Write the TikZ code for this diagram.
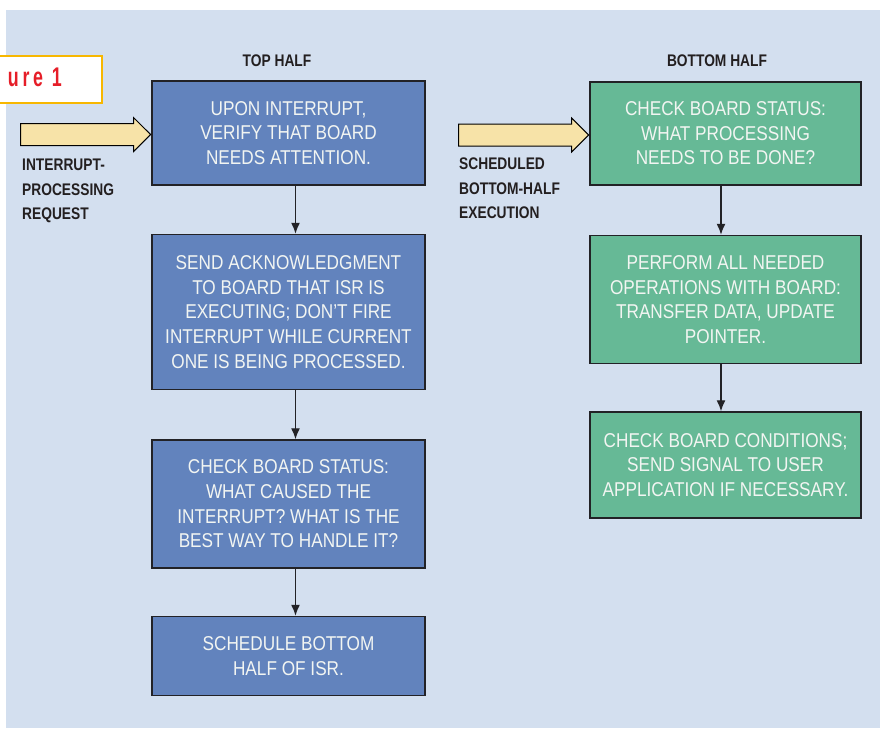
\documentclass[tikz,border=0pt]{standalone}
\usepackage{fontspec}
\setmainfont{Liberation Sans}[FakeStretch=0.86]
\newfontfamily\labelfont{Liberation Sans}[FakeStretch=0.82]
\newfontfamily\tagfont{Liberation Sans}[FakeStretch=0.66, LetterSpace=14]
\usetikzlibrary{shapes.arrows, positioning}
\usetikzlibrary{arrows.meta}
\tikzset{>={Latex[width=9pt,length=11pt]}}
\definecolor{bgblue}{RGB}{211,223,239}
\definecolor{topblue}{RGB}{98,131,189}
\definecolor{botgreen}{RGB}{102,185,150}
\definecolor{arrowfill}{RGB}{247,227,168}
\definecolor{boxline}{RGB}{34,34,38}
\definecolor{boxtext}{RGB}{242,245,242}
\definecolor{labeltext}{RGB}{35,31,32}
\definecolor{tagorange}{RGB}{247,183,0}
\definecolor{tagred}{RGB}{230,30,40}

\begin{document}
\begin{tikzpicture}[x=1pt, y=-1pt, topnode/.style={rectangle, draw=boxline, fill=topblue, line width=1.5pt, text=boxtext, minimum width=273pt, align=center, inner sep=0pt, font=\fontsize{20}{24.6}\selectfont}, botnode/.style={topnode, fill=botgreen, minimum width=271pt}, emptynode/.style={draw=none, fill=none, inner sep=0pt, align=left, text=labeltext, font=\labelfont\bfseries\fontsize{16.8}{24.5}\selectfont}, fatarrow/.style={single arrow, draw=black, fill=arrowfill, line width=1pt, minimum height=130pt, minimum width=33pt, single arrow head extend=6pt, inner xsep=0pt, inner ysep=10.5pt, anchor=tip}, conn/.style={draw=boxline, line width=1.3pt}]

    \useasboundingbox (0,0) rectangle (880,728);
    \fill[white] (0,0) rectangle (880,728);
    \fill[bgblue] (6,10) rectangle (880,728);

    %Nodes
    \node[draw=tagorange, line width=2pt, fill=white, minimum width=110pt, minimum height=47pt](tag) at (47,79){};
    \node[anchor=base east, inner sep=0pt, text=tagred, font=\tagfont\bfseries\fontsize{27}{27}\selectfont](tagtext) at (62,86){ure 1};

    \node[emptynode](tophalf) at (277,61){TOP HALF};
    \node[emptynode](bothalf) at (717,61){BOTTOM HALF};

    \node[topnode, minimum height=104pt](upon) at (288.5,133){UPON INTERRUPT,\\VERIFY THAT BOARD\\NEEDS ATTENTION.};
    \node[topnode, minimum height=155pt](ack)[below=48pt of upon]{SEND ACKNOWLEDGMENT\\TO BOARD THAT ISR IS\\EXECUTING; DON'T FIRE\\INTERRUPT WHILE CURRENT\\ONE IS BEING PROCESSED.};
    \node[topnode, minimum height=128pt](cause)[below=49pt of ack]{CHECK BOARD STATUS:\\WHAT CAUSED THE\\INTERRUPT? WHAT IS THE\\BEST WAY TO HANDLE IT?};
    \node[topnode, minimum height=79pt](sched)[below=47pt of cause]{SCHEDULE BOTTOM\\HALF OF ISR.};

    \node[botnode, minimum height=103pt](status) at (725.5,133.5){CHECK BOARD STATUS:\\WHAT PROCESSING\\NEEDS TO BE DONE?};
    \node[botnode, minimum height=128pt](perform)[below=49pt of status]{PERFORM ALL NEEDED\\OPERATIONS WITH BOARD:\\TRANSFER DATA, UPDATE\\POINTER.};
    \node[botnode, minimum height=106pt](cond)[below=47pt of perform]{CHECK BOARD CONDITIONS;\\SEND SIGNAL TO USER\\APPLICATION IF NECESSARY.};

    \node[fatarrow](reqarrow) at ([yshift=-1.5pt]upon.west){};
    \node[fatarrow](bharrow) at ([yshift=-1.5pt]status.west){};
    \node[emptynode, anchor=north west](reqtext) at (22,159){INTERRUPT-\\PROCESSING\\REQUEST};
    \node[emptynode, anchor=north west](bhtext) at (459,158){SCHEDULED\\BOTTOM-HALF\\EXECUTION};

    %Lines
    \draw[->, conn] ([xshift=7pt]upon.south) -- ([xshift=7pt]ack.north);
    \draw[->, conn] ([xshift=7pt]ack.south) -- ([xshift=7pt]cause.north);
    \draw[->, conn] ([xshift=7pt]cause.south) -- ([xshift=7pt]sched.north);
    \draw[->, conn] ([xshift=-4.5pt]status.south) -- ([xshift=-4.5pt]perform.north);
    \draw[->, conn] ([xshift=-4.5pt]perform.south) -- ([xshift=-4.5pt]cond.north);

\end{tikzpicture}
\end{document}
